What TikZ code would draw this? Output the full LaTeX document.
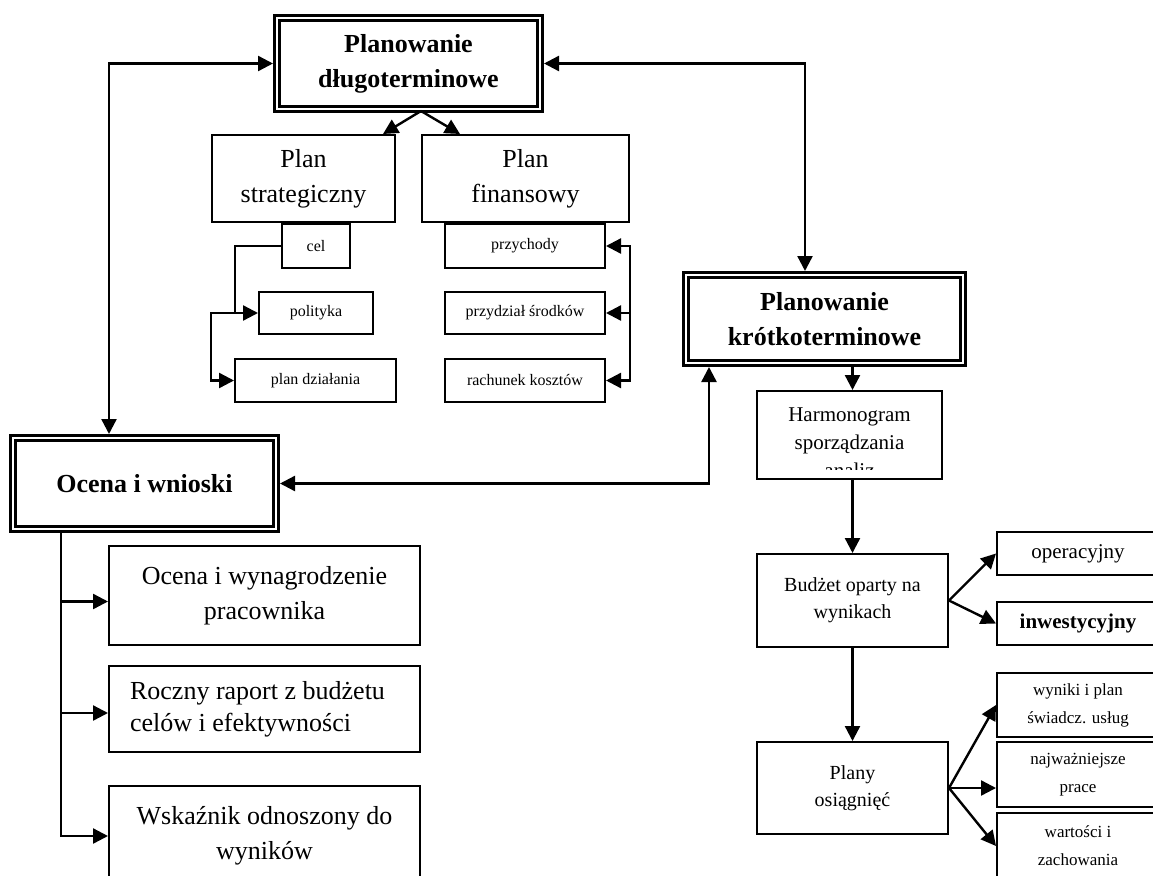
\documentclass[tikz,border=0pt]{standalone}
\usepackage{fontspec}
\setmainfont{Liberation Serif}
\usepackage{tikz}
\usetikzlibrary{arrows.meta, calc}

\begin{document}
\begin{tikzpicture}[x=1pt, y=-1pt,
  box/.style={draw, line width=2.2pt, inner sep=0pt, align=center},
  dblbox/.style={draw, double, double distance=2.4pt, line width=2.6pt, inner sep=0pt, outer sep=3.8pt, align=center, font=\bfseries\fontsize{26}{35}\selectfont},
  bigtxt/.style={font=\fontsize{26}{35}\selectfont},
  midtxt/.style={font=\fontsize{20}{27}\selectfont},
  smalltxt/.style={font=\fontsize{16}{20}\selectfont},
  sidetxt/.style={font=\fontsize{17}{28}\selectfont},
  arr/.style={line width=2.4pt, -{Triangle[length=15pt,width=15pt]}},
  twoarr/.style={line width=2.4pt, {Triangle[length=15pt,width=15pt]}-{Triangle[length=15pt,width=15pt]}}]
\useasboundingbox (0,0) rectangle (1153,875);
% Top: long-term planning and its two plans
\node[dblbox, minimum width=263.4pt, minimum height=91.4pt] (dlugo) at (408.5,63.5) {Planowanie\\długoterminowe};
\node[box, bigtxt, minimum width=182.8pt, minimum height=86.8pt] (strat) at (303.5,178.5) {Plan\\strategiczny};
\node[box, bigtxt, minimum width=206.8pt, minimum height=86.8pt] (fin) at (525.5,178.5) {Plan\\finansowy};
\coordinate (fork) at ($(dlugo.south)+(12.5,-2)$);
\draw[arr] (fork) -- ($(strat.north east)+(-13,0)$);
\draw[arr] (fork) -- ($(fin.north west)+(39,0)$);
\node[box, smalltxt, minimum width=67.8pt, minimum height=43.8pt] (cel) at (316,246) {cel};
\node[box, smalltxt, minimum width=113.8pt, minimum height=41.8pt] (polit) at (316,313) {polityka};
\node[box, smalltxt, minimum width=160.8pt, minimum height=42.8pt] (plandz) at (315.5,380.5) {plan działania};
\draw[arr] (cel.west) -- ++(-46,0) |- (polit.west);
\draw[arr] ([xshift=-23pt]polit.west) -- ++(-24,0) |- (plandz.west);
\node[box, smalltxt, minimum width=159.8pt, minimum height=43.8pt] (przych) at (525,246) {przychody};
\node[box, smalltxt, minimum width=159.8pt, minimum height=41.8pt] (przydz) at (525,313) {przydział środków};
\node[box, smalltxt, minimum width=159.8pt, minimum height=42.8pt] (rach) at (525,380.5) {rachunek kosztów};
\draw[twoarr] (przych.east) -- (przych.east -| fin.east) -- (rach.east -| fin.east) -- (rach.east);
\draw[arr] (przydz.east -| fin.east) -- (przydz.east);
% Short-term planning and evaluation
\node[dblbox, minimum width=277.4pt, minimum height=88.4pt] (krotko) at (824.5,319) {Planowanie\\krótkoterminowe};
\node[dblbox, minimum width=263.4pt, minimum height=91.4pt] (ocena) at (144.5,483.5) {Ocena i wnioski};
\coordinate (lt) at (109,0);
\coordinate (rt) at (805,0);
\coordinate (kup) at (709,0);
\draw[twoarr] (dlugo.west) -| (lt |- ocena.north);
\draw[twoarr] (dlugo.east) -| (rt |- krotko.north);
\draw[twoarr] (ocena.east) -| (kup |- krotko.south);
% Right column
\node[box, minimum width=184.8pt, minimum height=87.8pt] (harm) at (849.5,435) {};
\begin{scope}
\clip (harm.north west) rectangle ($(harm.south east)+(0,-11)$);
\node[align=center, font=\fontsize{21}{28}\selectfont] (harmtxt) at (849.5,443) {Harmonogram\\sporządzania\\analiz};
\end{scope}
\node[box, midtxt, minimum width=190.8pt, minimum height=92.8pt] (budzet) at (852.5,600.5) {Budżet oparty na\\wynikach};
\node[box, midtxt, minimum width=190.8pt, minimum height=91.8pt] (plany) at (852.5,788) {Plany\\osiągnięć};
\draw[arr] (krotko.south -| budzet.north) -- (harm.north -| budzet.north);
\draw[arr] (harm.south -| budzet.north) -- (budzet.north);
\draw[arr] (budzet.south) -- (plany.north);
\node[box, font=\fontsize{21}{28}\selectfont, minimum width=161.8pt, minimum height=42.8pt] (operac) at (1078,553.5) {operacyjny};
\node[box, font=\bfseries\fontsize{21}{28}\selectfont, minimum width=161.8pt, minimum height=42.8pt] (inwest) at (1078,623.5) {inwestycyjny};
\draw[arr] (budzet.east) -- (operac.west);
\draw[arr] (budzet.east) -- (inwest.west);
\node[box, sidetxt, minimum width=161.8pt, minimum height=63.8pt] (wyniki) at (1078,705) {wyniki i plan\\świadcz. usług};
\node[box, sidetxt, minimum width=161.8pt, minimum height=64.8pt] (najw) at (1078,774.5) {najważniejsze\\prace};
\node[box, sidetxt, minimum width=161.8pt, minimum height=65.8pt] (wart) at (1078,846) {wartości i\\zachowania};
\draw[arr] (plany.east) -- (wyniki.west);
\draw[arr] (plany.east) -- (plany.east -| najw.west);
\draw[arr] (plany.east) -- (wart.west);
% Left column
\node[box, bigtxt, minimum width=310.8pt, minimum height=98.8pt] (wynagr) at (264.5,595.5) {Ocena i wynagrodzenie\\pracownika};
\node[box, font=\fontsize{26}{32}\selectfont, align=flush left, text width=268.8pt, inner xsep=21pt, minimum height=85.8pt] (raport) at (264.5,709) {Roczny raport z budżetu\\celów i efektywności};
\node[box, bigtxt, minimum width=310.8pt, minimum height=99.8pt] (wskaz) at (264.5,836) {Wskaźnik odnoszony do\\wyników};
\coordinate (ol) at (61,0);
\draw[arr] (ol |- ocena.south) |- (wskaz.west);
\draw[arr] ($(wynagr.west)+(-47,6)$) -- ($(wynagr.west)+(0,6)$);
\draw[arr] ($(raport.west)+(-47,4)$) -- ($(raport.west)+(0,4)$);
\end{tikzpicture}
\end{document}
